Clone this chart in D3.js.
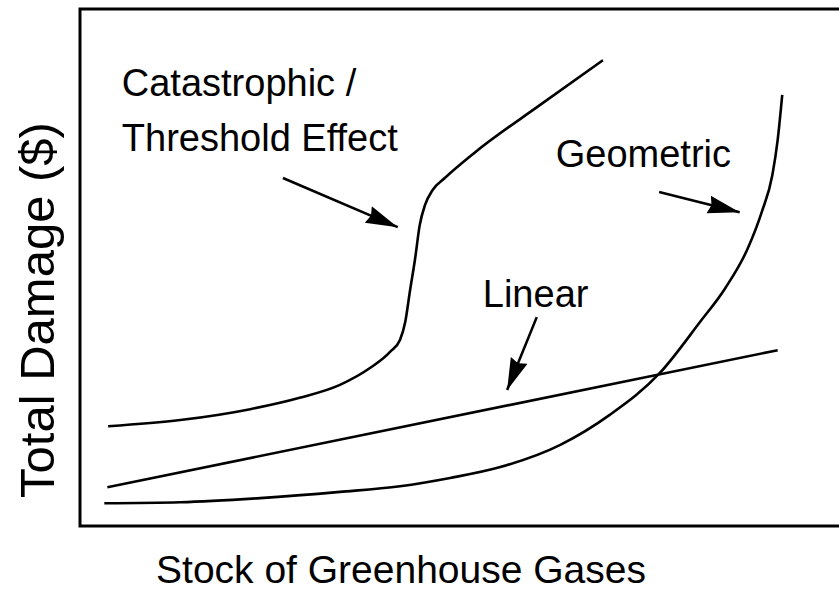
<!DOCTYPE html>
<html>
<head>
<meta charset="utf-8">
<script src="https://cdn.jsdelivr.net/npm/d3@7"></script>
<style>
  html, body { margin: 0; padding: 0; background: #fff; }
  svg { display: block; }
  text { font-family: "Liberation Sans", Arial, sans-serif; fill: #000; }
</style>
</head>
<body>
<div id="chart"></div>
<script>
// Damage curves, values on a 0-100 scale for both axes.
const thresholdX = [3.7, 13.2, 22.4, 28.9, 34.2, 38.2, 40.8, 42.1, 42.8, 43.4, 44.1, 44.7, 45.4, 46.4, 48.0, 52.0, 60.5, 68.8];
const thresholdY = [19.3, 20.5, 22.6, 24.8, 27.3, 30.6, 33.7, 36.0, 39.5, 45.3, 51.8, 58.2, 62.1, 65.0, 67.3, 72.3, 81.4, 90.1];

const linearX = [3.6, 91.8];
const linearY = [7.5, 34.0];

const geometricX = [3.2, 13.2, 23.7, 34.2, 42.1, 48.7, 55.3, 63.2, 69.7, 76.3, 81.6, 84.9, 87.9, 89.7, 91.1, 91.8, 92.4];
const geometricY = [4.4, 4.6, 5.4, 6.6, 7.7, 9.3, 11.4, 15.7, 21.5, 29.6, 39.5, 46.0, 53.8, 60.7, 67.9, 74.7, 83.4];

// labels and their pointer arrows (from -> to), same units
const labels = [
  { lines: ['Catastrophic /', 'Threshold Effect'], x: 5.5, y: 83.2 },
  { lines: ['Geometric'], x: 62.6, y: 69.4 },
  { lines: ['Linear'], x: 53.0, y: 42.3 }
];
const arrows = [
  { x1: 26.7, y1: 67.3, x2: 41.8, y2: 57.8 },
  { x1: 76.2, y1: 64.6, x2: 86.8, y2: 60.7 },
  { x1: 60.1, y1: 40.4, x2: 56.2, y2: 26.3 }
];

const width = 839;
const height = 596;
const margin = { top: 9, right: -1, bottom: 70, left: 80 };

const svg = d3.select('#chart').append('svg')
  .attr('width', width)
  .attr('height', height);

const x = d3.scaleLinear().domain([0, 100]).range([margin.left, width - margin.right]);
const y = d3.scaleLinear().domain([0, 100]).range([height - margin.bottom, margin.top]);

// frame (right side runs off the picture)
const frame = svg.append('g').attr('stroke', '#000').attr('stroke-width', 3).attr('fill', 'none');
frame.append('path')
  .attr('d', `M${width + 5},${y(100)} H${x(0)} V${y(0)} H${width + 5}`);

const line = d3.line()
  .x(d => x(d[0]))
  .y(d => y(d[1]))
  .curve(d3.curveMonotoneX);

const series = [
  d3.zip(thresholdX, thresholdY),
  d3.zip(linearX, linearY),
  d3.zip(geometricX, geometricY)
];

svg.append('g').selectAll('path')
  .data(series)
  .join('path')
  .attr('d', line)
  .attr('fill', 'none')
  .attr('stroke', '#000')
  .attr('stroke-width', 2.6)
  .attr('stroke-linejoin', 'round');

// arrowhead
svg.append('defs').append('marker')
  .attr('id', 'head')
  .attr('markerUnits', 'userSpaceOnUse')
  .attr('viewBox', '0 0 32 20')
  .attr('refX', 32)
  .attr('refY', 10)
  .attr('markerWidth', 32)
  .attr('markerHeight', 20)
  .attr('orient', 'auto')
  .append('path')
  .attr('d', 'M0,1 L32,10 L0,19 L3,10 Z')
  .attr('fill', '#000');

svg.append('g').selectAll('line')
  .data(arrows)
  .join('line')
  .attr('x1', d => x(d.x1))
  .attr('y1', d => y(d.y1))
  .attr('x2', d => x(d.x2))
  .attr('y2', d => y(d.y2))
  .attr('stroke', '#000')
  .attr('stroke-width', 2.6)
  .attr('marker-end', 'url(#head)');

// in-plot labels
const lab = svg.append('g').selectAll('text')
  .data(labels)
  .join('text')
  .attr('x', d => x(d.x))
  .attr('y', d => y(d.y))
  .attr('font-size', 38);
lab.selectAll('tspan')
  .data(d => d.lines.map((t, i) => ({ t, i, x: d.x })))
  .join('tspan')
  .attr('x', d => x(d.x))
  .attr('dy', d => d.i === 0 ? 0 : 55)
  .text(d => d.t);

// axis titles
svg.append('text')
  .attr('x', 401)
  .attr('y', 583)
  .attr('text-anchor', 'middle')
  .attr('font-size', 39)
  .text('Stock of Greenhouse Gases');

svg.append('text')
  .attr('transform', 'translate(54,310) rotate(-90)')
  .attr('text-anchor', 'middle')
  .attr('font-size', 49)
  .text('Total Damage ($)');
</script>
</body>
</html>
